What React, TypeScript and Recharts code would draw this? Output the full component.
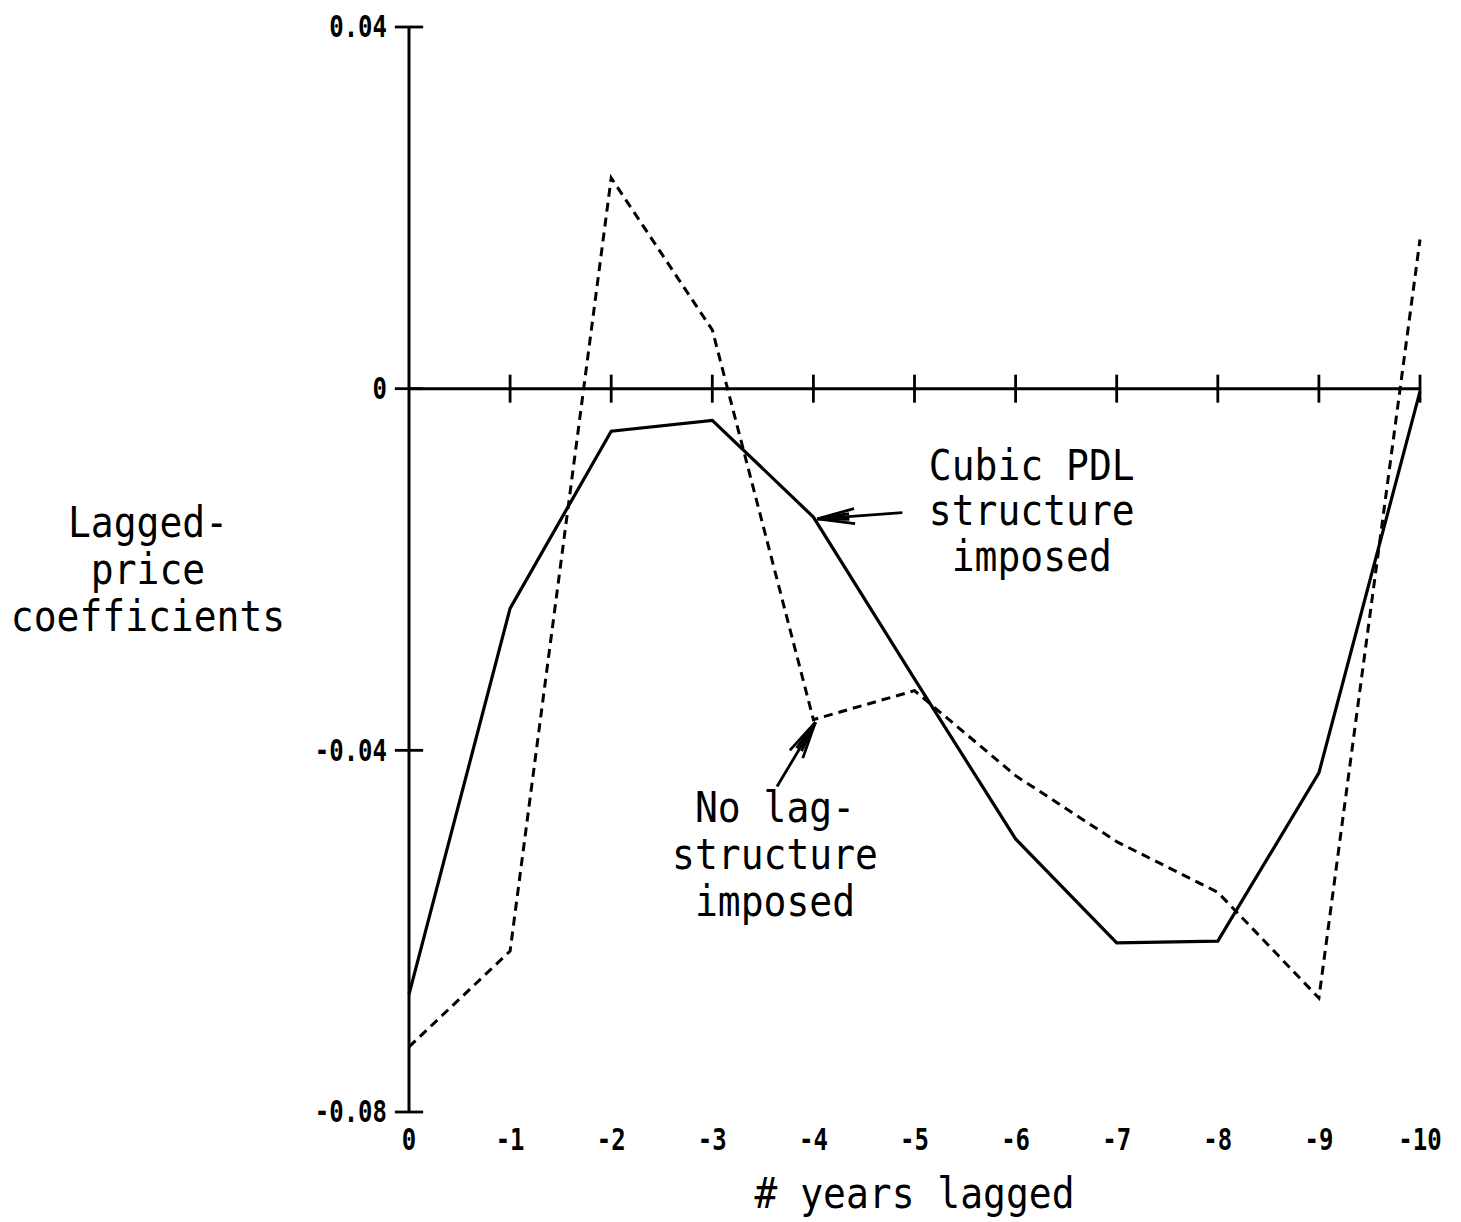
import { LineChart, Line, XAxis, YAxis, ReferenceLine, ReferenceDot } from "recharts";

const LAGS = [0, -1, -2, -3, -4, -5, -6, -7, -8, -9, -10];
const PDL_COEF = [-0.067, -0.0243, -0.0047, -0.0035, -0.0142, -0.0321, -0.0498, -0.0613, -0.0611, -0.0425, -0.0003];
const NO_LAG_COEF = [-0.0728, -0.0622, 0.0233, 0.0065, -0.0366, -0.0334, -0.0428, -0.0501, -0.0557, -0.0674, 0.0165];
const Y_TICKS = [0.04, 0, -0.04, -0.08];
const X_TICK_MARKS = [-1, -2, -3, -4, -5, -6, -7, -8, -9, -10];

const Y_LABEL = ["Lagged-", "price", "coefficients"];
const X_LABEL = "# years lagged";
const PDL_NOTE = ["Cubic PDL", "structure", "imposed"];
const NO_LAG_NOTE = ["No lag-", "structure", "imposed"];

const FONT = '"DejaVu Sans Mono", "Liberation Mono", monospace';
const INK = "#000";

const data = LAGS.map((lag, i) => ({ lag, pdl: PDL_COEF[i], noLag: NO_LAG_COEF[i] }));

// multi-line plotter-ish text, centred on (cx, cy)
function TextBlock({ cx, cy, lines, gap = 47, size = 38 }: any) {
  return (
    <g transform={`translate(${cx},${cy}) scale(1,1.12)`}>
      <text textAnchor="middle" dominantBaseline="central" fontFamily={FONT} fontSize={size} fill={INK}>
        {lines.map((l: string, i: number) => (
          <tspan key={i} x={0} y={((i - (lines.length - 1) / 2) * gap) / 1.12}>
            {l}
          </tspan>
        ))}
      </text>
    </g>
  );
}

function Arrow({ x1, y1, x2, y2 }: any) {
  const a = Math.atan2(y2 - y1, x2 - x1);
  const barb = (len: number, ang: number) => ({
    x: x2 - len * Math.cos(a + ang),
    y: y2 - len * Math.sin(a + ang),
  });
  const heads = [barb(38, 0.2), barb(38, -0.2), barb(32, 0.09), barb(32, -0.09)];
  return (
    <g stroke={INK} strokeWidth={2.8} fill="none">
      <line x1={x1} y1={y1} x2={x2} y2={y2} />
      {heads.map((p, i) => (
        <line key={i} x1={x2} y1={y2} x2={p.x} y2={p.y} />
      ))}
    </g>
  );
}

function XTick({ x, y, payload }: any) {
  return (
    <text
      transform={`translate(${x},${y + 28}) scale(1,1.25)`}
      textAnchor="middle"
      dominantBaseline="central"
      fontFamily={FONT}
      fontWeight="bold"
      fontSize={24}
      fill={INK}
    >
      {String(payload.value)}
    </text>
  );
}

function YTick({ x, y, payload }: any) {
  return (
    <text
      transform={`translate(${x - 22},${y}) scale(1,1.25)`}
      textAnchor="end"
      dominantBaseline="central"
      fontFamily={FONT}
      fontWeight="bold"
      fontSize={24}
      fill={INK}
    >
      {String(payload.value)}
    </text>
  );
}

export default function App() {
  return (
    <div style={{ width: 1453, height: 1214 }}>
      <LineChart
        width={1453}
        height={1214}
        data={data}
        margin={{ top: 19, right: 41, bottom: 60, left: 1 }}
        style={{ overflow: "visible" }}
      >
        <XAxis
          dataKey="lag"
          type="number"
          domain={[-10, 0]}
          reversed
          ticks={LAGS}
          interval={0}
          axisLine={false}
          tickLine={false}
          tickSize={0}
          tickMargin={0}
          height={50}
          tick={(p: any) => <XTick {...p} />}
          label={(p: any) => {
            const vb = p.viewBox;
            return <TextBlock cx={vb.x + vb.width / 2} cy={vb.y + 81} lines={[X_LABEL]} />;
          }}
        />
        <YAxis
          type="number"
          domain={[-0.08, 0.04]}
          ticks={Y_TICKS}
          interval={0}
          width={400}
          axisLine={{ stroke: INK, strokeWidth: 3 }}
          tickLine={false}
          tickSize={0}
          tickMargin={0}
          tick={(p: any) => <YTick {...p} />}
          label={(p: any) => {
            const vb = p.viewBox;
            return <TextBlock cx={vb.x + vb.width - 261} cy={vb.y + vb.height / 2} lines={Y_LABEL} />;
          }}
        />

        {/* x axis drawn through zero, with crossing ticks */}
        <ReferenceLine y={0} stroke={INK} strokeWidth={3} />
        {X_TICK_MARKS.map((t) => (
          <ReferenceLine
            key={`xt${t}`}
            segment={[{ x: t, y: 0.00155 }, { x: t, y: -0.00155 }]}
            stroke={INK}
            strokeWidth={2.8}
            ifOverflow="visible"
          />
        ))}
        {Y_TICKS.map((t) => (
          <ReferenceLine
            key={`yt${t}`}
            segment={[{ x: 0.14, y: t }, { x: -0.14, y: t }]}
            stroke={INK}
            strokeWidth={2.8}
            ifOverflow="visible"
          />
        ))}

        <Line
          type="linear"
          dataKey="noLag"
          stroke={INK}
          strokeWidth={3}
          strokeDasharray="9 6"
          dot={false}
          isAnimationActive={false}
        />
        <Line type="linear" dataKey="pdl" stroke={INK} strokeWidth={3.2} dot={false} isAnimationActive={false} />

        <ReferenceLine
          segment={[{ x: -4.88, y: -0.0137 }, { x: -4.04, y: -0.0144 }]}
          ifOverflow="visible"
          shape={(p: any) => <Arrow {...p} />}
        />
        <ReferenceLine
          segment={[{ x: -3.64, y: -0.044 }, { x: -4.02, y: -0.0369 }]}
          ifOverflow="visible"
          shape={(p: any) => <Arrow {...p} />}
        />
        <ReferenceDot
          x={-6.16}
          y={-0.0135}
          r={1}
          ifOverflow="visible"
          shape={(p: any) => <TextBlock cx={p.cx} cy={p.cy} lines={PDL_NOTE} gap={46} />}
        />
        <ReferenceDot
          x={-3.62}
          y={-0.0515}
          r={1}
          ifOverflow="visible"
          shape={(p: any) => <TextBlock cx={p.cx} cy={p.cy} lines={NO_LAG_NOTE} />}
        />
      </LineChart>
    </div>
  );
}
